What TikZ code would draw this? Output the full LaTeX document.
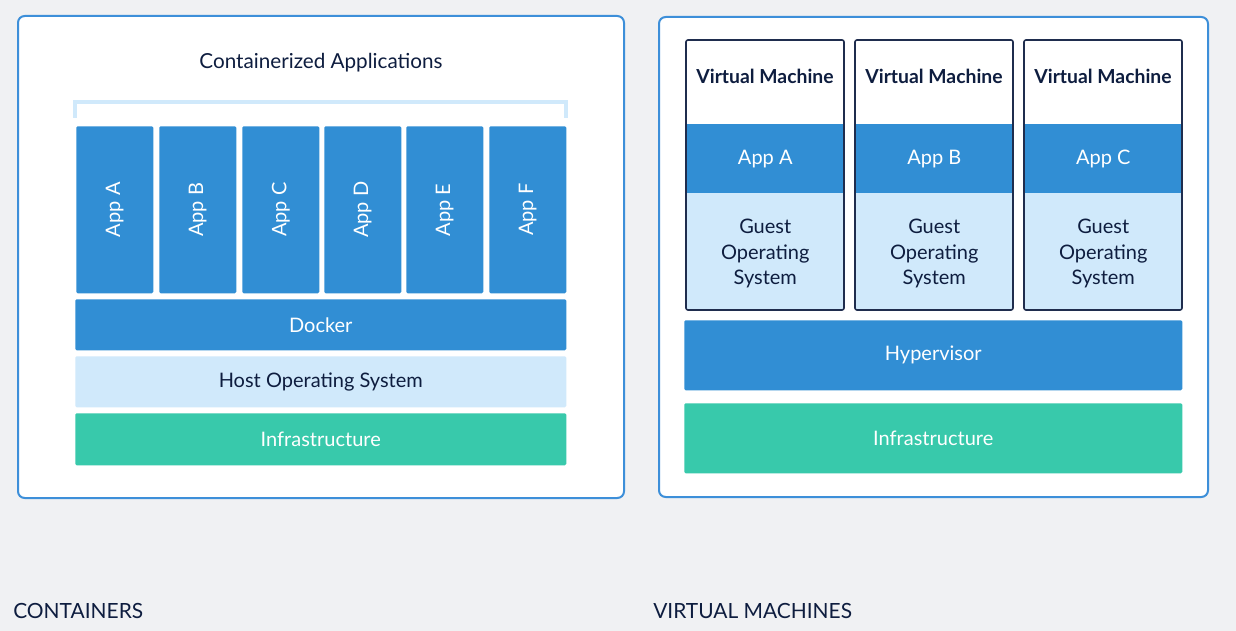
\documentclass[tikz,border=0pt]{standalone}
\usepackage{fontspec}
\setmainfont{Lato}
\definecolor{bg}{HTML}{F0F1F3}
\definecolor{frame}{HTML}{3D8FD9}
\definecolor{appblue}{HTML}{318ED4}
\definecolor{lightblue}{HTML}{D0E9FB}
\definecolor{infra}{HTML}{38C9AB}
\definecolor{navy}{HTML}{0E1D3F}
\definecolor{vmborder}{HTML}{1F2D4E}
\begin{document}
\begin{tikzpicture}[x=0.75pt,y=-0.75pt,
  panel/.style={draw=frame,line width=1.5pt,fill=white,rounded corners=5pt},
  layer/.style={rectangle,inner sep=0pt,rounded corners=1pt},
  bluebox/.style={layer,fill=appblue,text=white},
  lightbox/.style={layer,fill=lightblue,text=navy},
  greenbox/.style={layer,fill=infra,text=white},
  lbl/.style={font=\fontsize{15}{18}\selectfont},
  vmbox/.style={draw=vmborder,line width=1.2pt,rounded corners=1.5pt},
  caption/.style={anchor=west,text=navy,font=\fontsize{15.7}{19}\selectfont,inner sep=0pt}
]
\useasboundingbox (0,0) rectangle (1236,631);
\fill[bg] (0,0) rectangle (1236,631);
% panels
\draw[panel] (18,16) rectangle (624,498);
\draw[panel] (659,17) rectangle (1208,497);
% left
\node[text=navy,font=\fontsize{15.5}{18}\selectfont] (title) at (321,63) {Containerized Applications};
\coordinate (bl) at (75,118);
\coordinate (br) at (566,118);
\draw[lightblue,line width=2.4pt] (bl) |- (321,102) -| (br);
\foreach \n/\x in {A/76,B/159,C/242,D/324,E/406,F/489}{
  \node[bluebox,minimum width=57.75pt,minimum height=125.25pt,anchor=north west] (app\n) at (\x,126) {};
  \node[text=white,lbl,rotate=90] at (app\n.center) {App \n};
}
\node[bluebox,lbl,minimum width=368.25pt,minimum height=38.25pt,anchor=north west] (docker) at (75,299) {Docker};
\node[lightbox,lbl,minimum width=368.25pt,minimum height=38.25pt,anchor=north west] (host) at (75,356) {Host Operating System};
\node[greenbox,lbl,minimum width=368.25pt,minimum height=39pt,anchor=north west] (infraL) at (75,413) {Infrastructure};
% right
\foreach \i/\x/\a in {1/686/A,2/855/B,3/1024/C}{
  \fill[white] (\x,40) rectangle ++(158,84);
  \node[bluebox,layer,rounded corners=0pt,minimum width=118.5pt,minimum height=51.75pt,anchor=north west,lbl] (vmapp\i) at (\x,124) {App \a};
  \node[lightbox,rounded corners=0pt,minimum width=118.5pt,minimum height=87.75pt,anchor=north west] (guest\i) at (\x,193) {};
  \node[text=navy,align=center,font=\fontsize{15}{19}\selectfont] at ([yshift=-1.5pt]guest\i.center) {Guest\\Operating\\System};
  \draw[vmbox] (\x,40) rectangle ++(158,270);
  \node[text=navy,font=\bfseries\fontsize{14.5}{17}\selectfont] (vm\i) at (\x+79,76) {Virtual Machine};
}
\node[bluebox,lbl,minimum width=373.5pt,minimum height=52.5pt,anchor=north west] (hyper) at (684,320) {Hypervisor};
\node[greenbox,lbl,minimum width=373.5pt,minimum height=52.5pt,anchor=north west] (infraR) at (684,403) {Infrastructure};
% captions
\node[caption] (capL) at (13,611) {CONTAINERS};
\node[caption] (capR) at (653,611) {VIRTUAL MACHINES};
\end{tikzpicture}
\end{document}
